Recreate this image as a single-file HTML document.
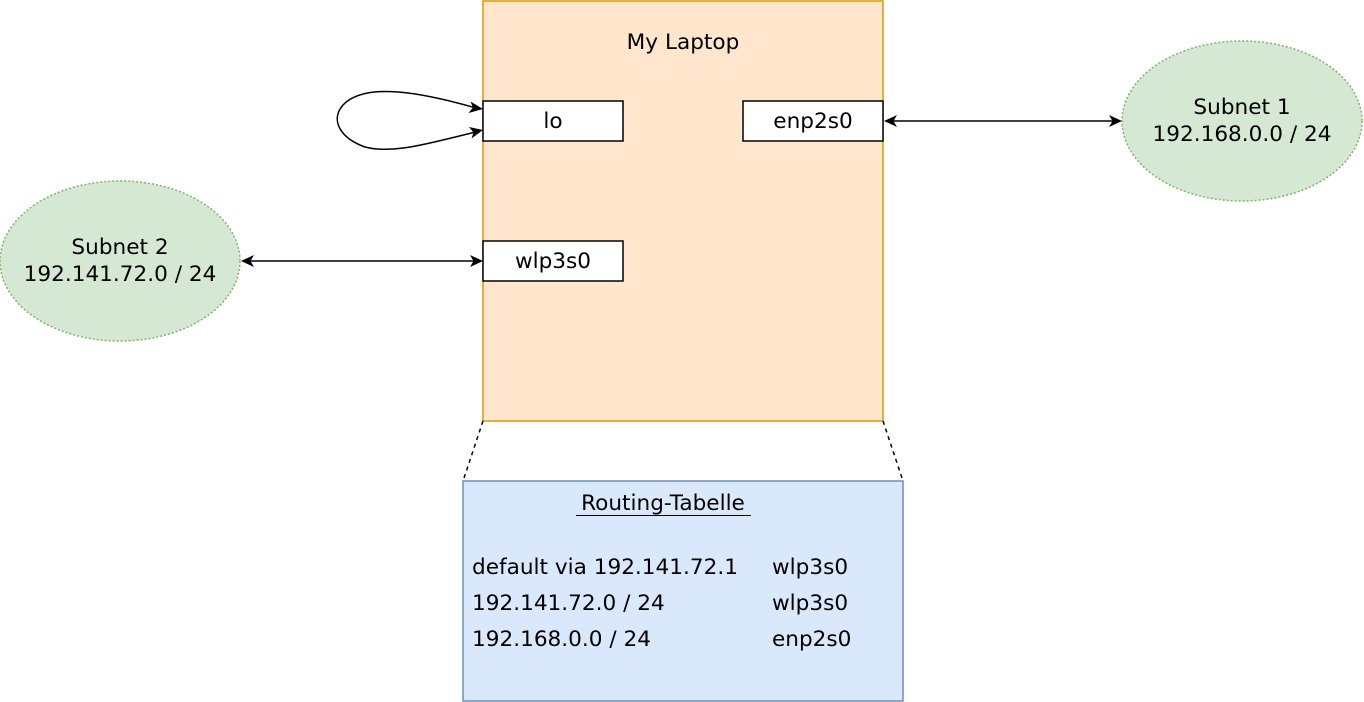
<!DOCTYPE html>
<html><head><meta charset="utf-8"><style>html,body{margin:0;padding:0;background:#fff}
#w{position:relative;width:1364px;height:702px;overflow:hidden}
svg{position:absolute;left:0;top:0}
.t{position:absolute;font-family:"DejaVu Sans","Liberation Sans",sans-serif;font-size:21.6px;line-height:27px;color:#000;white-space:nowrap}
.c{text-align:center}</style></head>
<body><div id="w">
<svg width="1364" height="702" viewBox="0 0 1364 702" xmlns="http://www.w3.org/2000/svg">
<rect x="483" y="1" width="400" height="420" fill="#ffe6cc" stroke="#d79b00" stroke-width="1.5"/>
<rect x="483" y="101" width="140" height="40" fill="#fff" stroke="#000" stroke-width="1.5"/>
<rect x="743" y="101" width="140" height="40" fill="#fff" stroke="#000" stroke-width="1.5"/>
<rect x="483" y="241" width="140" height="40" fill="#fff" stroke="#000" stroke-width="1.5"/>
<ellipse cx="1242" cy="121" rx="120" ry="80" fill="#d5e8d4" stroke="#82b366" stroke-width="1.5" stroke-dasharray="2,2"/>
<ellipse cx="120" cy="261" rx="120" ry="80" fill="#d5e8d4" stroke="#82b366" stroke-width="1.5" stroke-dasharray="2,2"/>
<g stroke="#000" stroke-width="1.5" fill="none">
<line x1="890" y1="121" x2="1116" y2="121"/>
<line x1="247" y1="261" x2="476" y2="261"/>
<path d="M476,108 C420,92 365,82 343,105 C330,120 340,138 365,147 C395,155 440,140 476,132"/>
<line x1="483" y1="421" x2="463" y2="481" stroke-dasharray="4,4"/>
<line x1="883" y1="421" x2="903" y2="481" stroke-dasharray="4,4"/>
</g>
<g fill="#000">
<path d="M884,121 L897,115 L893.5,121 L897,127 Z"/>
<path d="M1122,121 L1109,115 L1112.5,121 L1109,127 Z"/>
<path d="M241,261 L254,255 L250.5,261 L254,267 Z"/>
<path d="M483,261 L470,255 L473.5,261 L470,267 Z"/>
<path d="M483,109 L470.5,101.5 L473,107.5 L468.5,113 Z"/>
<path d="M483,130 L469,127 L473.5,132.5 L471.5,138.5 Z"/>
</g>
<rect x="463" y="481" width="440" height="220" fill="#dae8fc" stroke="#6c8ebf" stroke-width="1.5"/>
<line x1="576" y1="515.5" x2="751" y2="515.5" stroke="#000" stroke-width="1"/>
</svg>
<div class="t c" style="left:483px;top:29px;width:400px">My Laptop</div>
<div class="t c" style="left:483px;top:108px;width:140px">lo</div>
<div class="t c" style="left:743px;top:108px;width:140px">enp2s0</div>
<div class="t c" style="left:483px;top:248px;width:140px">wlp3s0</div>
<div class="t c" style="left:1122px;top:94px;width:240px">Subnet 1<br>192.168.0.0 / 24</div>
<div class="t c" style="left:0;top:234px;width:240px">Subnet 2<br>192.141.72.0 / 24</div>
<div class="t c" style="left:463px;top:490px;width:400px">Routing-Tabelle</div>
<div class="t" style="left:472px;top:554px">default via 192.141.72.1</div>
<div class="t" style="left:772px;top:554px">wlp3s0</div>
<div class="t" style="left:472px;top:590px">192.141.72.0 / 24</div>
<div class="t" style="left:772px;top:590px">wlp3s0</div>
<div class="t" style="left:472px;top:626px">192.168.0.0 / 24</div>
<div class="t" style="left:772px;top:626px">enp2s0</div>
</div></body></html>
